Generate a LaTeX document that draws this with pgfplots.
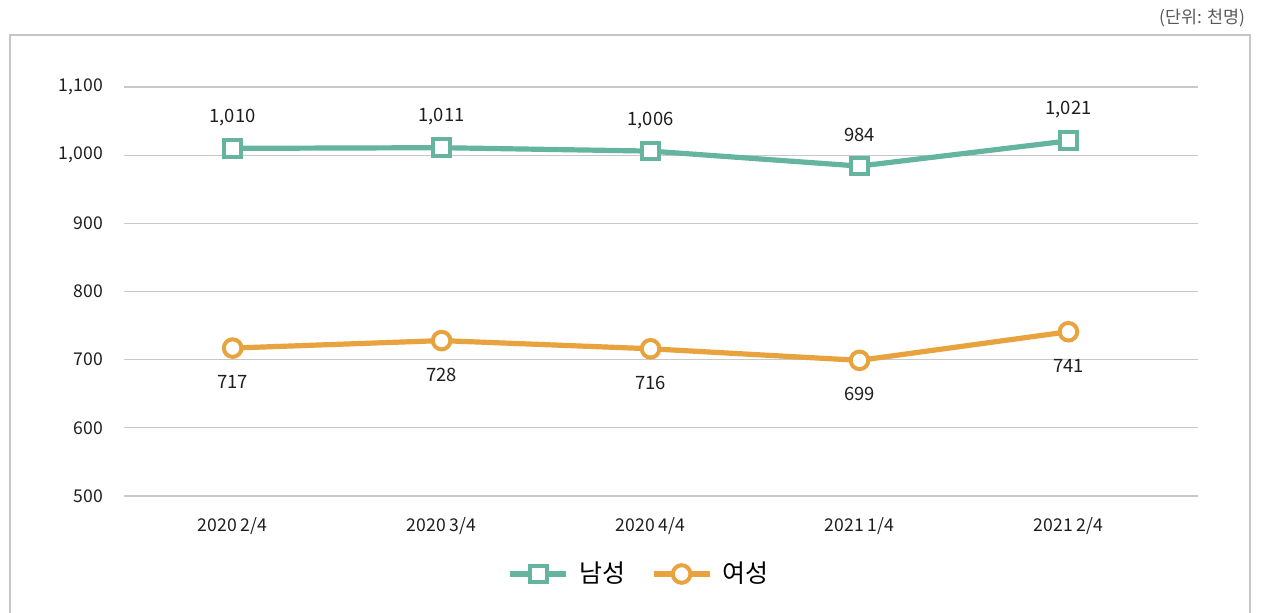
\documentclass[border=0pt]{standalone}
\usepackage{fontspec}
\setmainfont{Noto Sans CJK KR}
\usepackage{pgfplots}
\pgfplotsset{compat=1.18}
\definecolor{maleteal}{RGB}{100,180,160}
\definecolor{femaleorange}{RGB}{232,162,62}
\definecolor{gridgray}{RGB}{200,200,200}
\definecolor{framegray}{RGB}{198,198,200}
\definecolor{txt}{RGB}{30,30,30}

\begin{document}
\begin{tikzpicture}
\begin{axis}[
    at={(0,0)}, anchor=south west,
    scale only axis,
    width=537pt, height=204.5pt,
    xmin=-0.52, xmax=4.62,
    ymin=500, ymax=1100,
    ytick={500,600,...,1100},
    xtick={0,1,2,3,4},
    xticklabels={2020 2/4, 2020 3/4, 2020 4/4, 2021 1/4, 2021 2/4},
    axis line style={draw=none},
    major tick length=0pt,
    ymajorgrids,
    grid style={gridgray, line width=0.6pt},
    /pgf/number format/assume math mode=true,
    /pgf/number format/1000 sep={,},
    tick label style={font=\fontsize{8.8}{10}\selectfont, text=txt},
    yticklabel style={xshift=-7pt},
    xticklabel style={yshift=-7pt},
    clip=false,
    nodes near coords,
    every node near coord/.append style={font=\fontsize{9.2}{11}\selectfont, text=txt, anchor=center},
    legend style={at={(258pt,-39pt)}, anchor=center, draw=none, legend columns=2,
        font=\fontsize{12.5}{14}\selectfont, column sep=0pt,
        /tikz/every odd column/.append style={column sep=3pt},
        /tikz/every even column/.append style={column sep=11pt}},
    legend image code/.code={
        \draw[#1, mark=none] (0pt,0pt) -- (28pt,0pt);
        \draw[#1, only marks] plot coordinates {(14pt,0pt)};
    },
]
\addplot[maleteal, line width=2.6pt, mark=square*, mark size=4.2pt,
    mark options={fill=white, draw=maleteal, line width=2pt},
    every node near coord/.append style={yshift=15.5pt}]
    coordinates {(0,1010) (1,1011) (2,1006) (3,984) (4,1021)};
\addlegendentry{남성}
\addplot[femaleorange, line width=2.6pt, mark=*, mark size=4.4pt,
    mark options={fill=white, draw=femaleorange, line width=2pt},
    every node near coord/.append style={yshift=-17pt}]
    coordinates {(0,717) (1,728) (2,716) (3,699) (4,741)};
\addlegendentry{여성}
\end{axis}
\draw[framegray, line width=1.1pt] (-57pt,-62pt) -- (-57pt,230.5pt) -- (563pt,230.5pt) -- (563pt,-62pt);
\node[anchor=east, font=\fontsize{8.7}{10}\selectfont, text=black!65] at (564pt,239pt) {(단위: 천명)};
\pgfresetboundingbox
\path[use as bounding box] (-62pt,-58pt) rectangle (569pt,248pt);
\end{tikzpicture}
\end{document}
